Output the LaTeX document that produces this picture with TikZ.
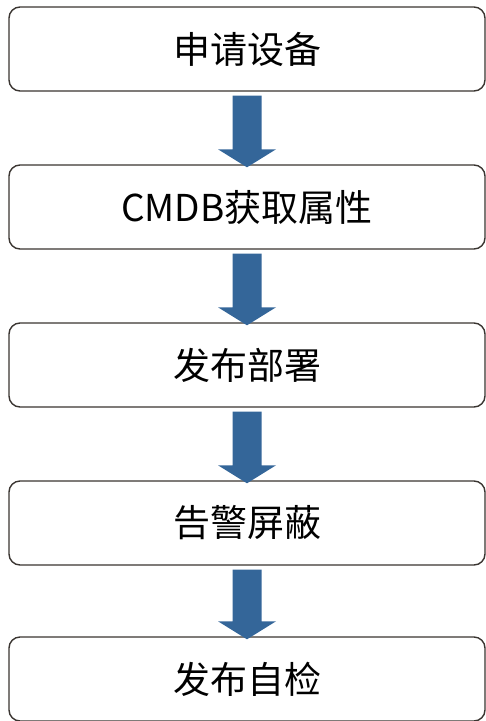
\documentclass[tikz,border=0pt]{standalone}
\usepackage{fontspec}
\newfontfamily\cjk{Noto Sans CJK SC}
\begin{document}
\begin{tikzpicture}[x=1pt,y=-1pt,
  stepbox/.style={draw=boxline,line width=1.4pt,rounded corners=11pt,fill=white,
    minimum width=476pt,minimum height=84pt,inner sep=0pt,font=\cjk\fontsize{37}{40}\selectfont},
  arrowfill/.style={fill=arrowblue}]
\definecolor{boxline}{HTML}{3A3531}
\definecolor{arrowblue}{HTML}{346699}
\useasboundingbox (0,0) rectangle (486,721);
\node[stepbox] (s1) at (247,49) {申请设备};
\node[stepbox] (s2) at (247,207) {CMDB获取属性};
\node[stepbox] (s3) at (247,365) {发布部署};
\node[stepbox] (s4) at (247,523) {告警屏蔽};
\node[stepbox] (s5) at (247,679) {发布自检};
\foreach \a/\b in {s1/s2,s2/s3,s3/s4,s4/s5}{
  \fill[arrowfill] ([xshift=-14.5pt,yshift=-4pt]\a.south) -- ([xshift=14.5pt,yshift=-4pt]\a.south)
    -- ([xshift=14.5pt,yshift=15pt]\b.north) -- ([xshift=29pt,yshift=15pt]\b.north)
    -- ([yshift=-3pt]\b.north) -- ([xshift=-29pt,yshift=15pt]\b.north)
    -- ([xshift=-14.5pt,yshift=15pt]\b.north) -- cycle;
}
\end{tikzpicture}
\end{document}
